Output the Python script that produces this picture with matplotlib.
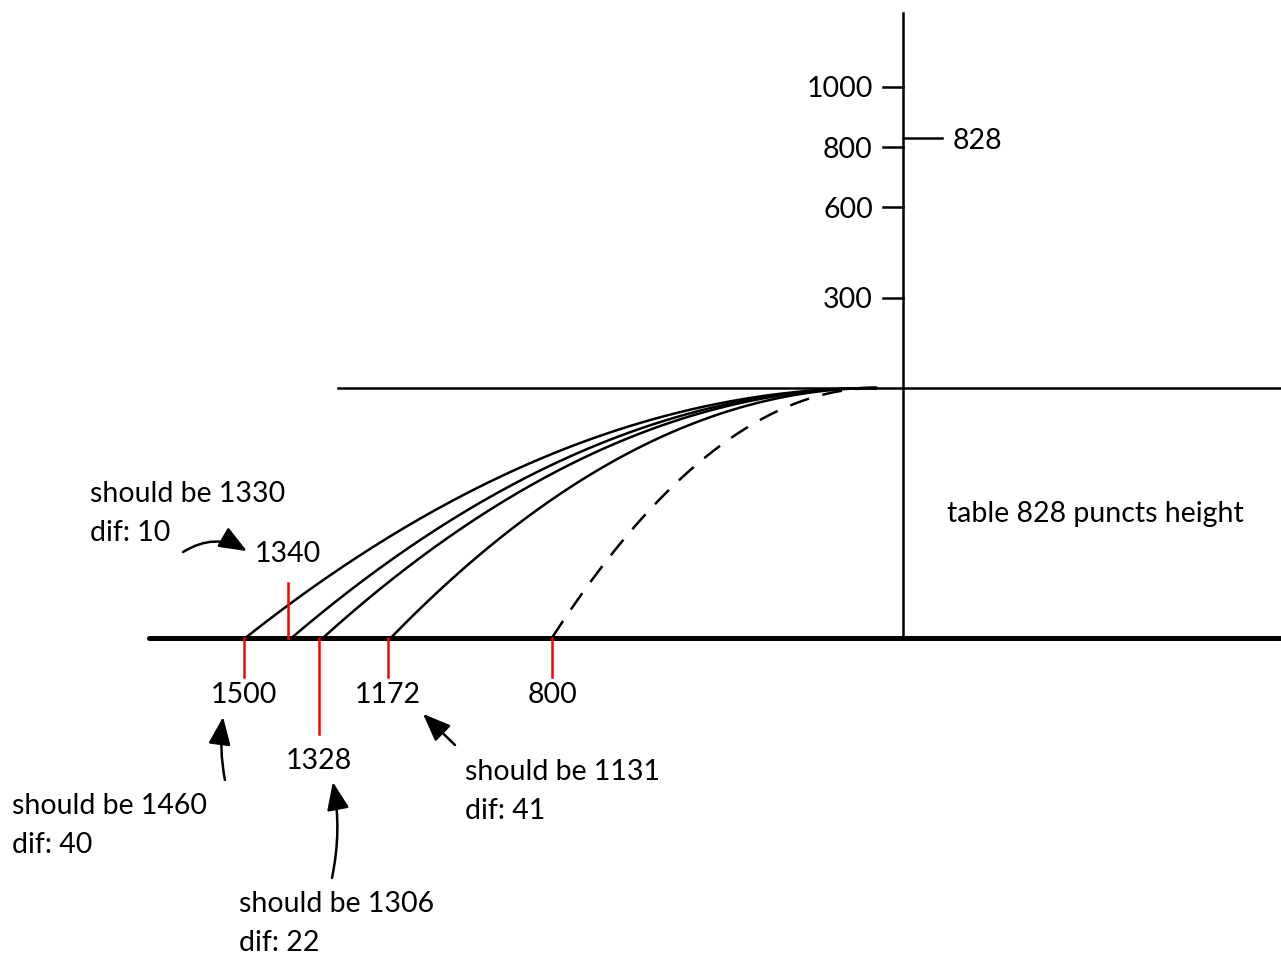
import numpy as np
import matplotlib
matplotlib.use("Agg")
import matplotlib.pyplot as plt
from matplotlib.patches import FancyArrowPatch

plt.rcParams['font.family'] = ['Lato', 'DejaVu Sans']

# ---- data (puncts) ----
table_height = 828
launch_x = -90                      # table edge, where every ball leaves the table
landing_x = [-2186, -2040, -1937, -1708, -1164]
landing_labels = ["1500", "1340", "1328", "1172", "800"]
curve_landing_x = [-2180, -2027, -1923, -1698, -1164]
curve_dashed = [False, False, False, False, True]
red_tick_top = [0, 180, 0, 0, 0]          # marker extending above the floor
red_tick_bottom = [129, 0, 318, 132, 132]  # marker extending below the floor

yticks = [300, 600, 800, 1000]
ytick_labels = ["300", "600", "800", "1000"]

notes = [
    ("should be 1330", "dif: 10"),
    ("should be 1460", "dif: 40"),
    ("should be 1306", "dif: 22"),
    ("should be 1131", "dif: 41"),
]

# ---- figure ----
scale = 0.3015  # pixels per punct at 100 dpi
W, H = 1281, 956
fig = plt.figure(figsize=(W / 100, H / 100), dpi=100)
ax = fig.add_axes([0, 0, 1, 1])
ax.set_xlim(-903 / scale, (W - 903) / scale)
ax.set_ylim(-(H - 388) / scale, 388 / scale)
ax.axis("off")

FS = 20.5
LW = 1.8
DY = -9   # small downward nudge so glyphs sit centred on their anchor
floor = -table_height

# floor and table surface
ax.plot([-2500, 1260], [floor, floor], color="black", lw=3.6,
        solid_capstyle="round", zorder=3)
ax.plot([-1873, 1260], [0, 0], color="black", lw=LW, zorder=3)
# vertical height axis
ax.plot([0, 0], [floor, 1245], color="black", lw=LW, zorder=3)

# height ticks
for v, lab in zip(yticks, ytick_labels):
    ax.plot([-66, 0], [v, v], color="black", lw=LW)
    ax.text(-100, v + DY, lab, ha="right", va="center", fontsize=FS)
ax.plot([0, 129], [table_height, table_height], color="black", lw=LW)
ax.text(163, table_height + DY, str(table_height), ha="left", va="center",
        fontsize=FS)

ax.text(146, -408 + DY, f"table {table_height} puncts height", ha="left",
        va="center", fontsize=FS)

# trajectories: falling from table height, horizontal launch
for xl, dashed in zip(curve_landing_x, curve_dashed):
    xs = np.linspace(xl, launch_x, 200)
    ys = -table_height * ((launch_x - xs) / (launch_x - xl)) ** 2
    if dashed:
        ax.plot(xs, ys, color="black", lw=LW, linestyle=(0, (8, 5.5)), zorder=2)
    else:
        ax.plot(xs, ys, color="black", lw=LW, zorder=2)

# red landing markers
for x, top, bot in zip(landing_x, red_tick_top, red_tick_bottom):
    ax.plot([x, x], [floor - bot, floor + top], color="#ff0000", lw=1.8, zorder=4)

# landing labels
label_pos = {"1500": (-2186, -1008), "1340": (-2040, -541),
             "1328": (-1937, -1227), "1172": (-1708, -1008),
             "800": (-1164, -1008)}
for lab in landing_labels:
    x, y = label_pos[lab]
    ax.text(x, y + DY, lab, ha="center", va="center", fontsize=FS)

# notes
note_pos = [(-2697, -342), (-2955, -1376), (-2202, -1701), (-1453, -1264)]
for (l1, l2), (x, y) in zip(notes, note_pos):
    ax.text(x, y + DY, l1, ha="left", va="center", fontsize=FS)
    ax.text(x, y - 130 + DY, l2, ha="left", va="center", fontsize=FS)

# arrows
arrow_style = "-|>,head_length=0.85,head_width=0.34"
arrows = [((-2388, -544), (-2176, -541), -0.3),
          ((-2249, -1300), (-2255, -1091), -0.08),
          ((-1894, -1625), (-1891, -1307), 0.1),
          ((-1486, -1184), (-1592, -1081), 0.0)]
for tail, tip, rad in arrows:
    ax.add_patch(FancyArrowPatch(tail, tip, arrowstyle=arrow_style,
                                 connectionstyle=f"arc3,rad={rad}",
                                 mutation_scale=20, color="black", lw=1.8,
                                 shrinkA=0, shrinkB=0))

fig.savefig("out.png", dpi=100, facecolor="white")
